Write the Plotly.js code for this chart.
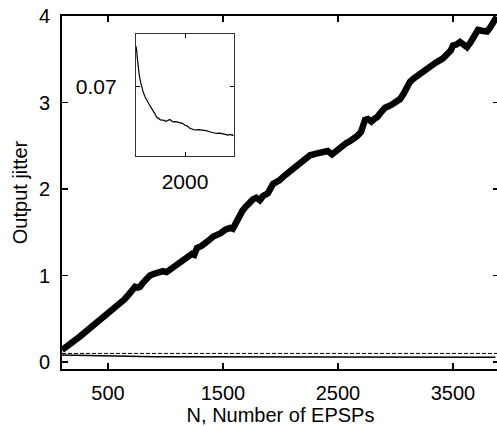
<!DOCTYPE html>
<html>
<head>
<meta charset="utf-8">
<script src="https://cdn.plot.ly/plotly-3.0.1.min.js"></script>
<style>
html,body{margin:0;padding:0;overflow:hidden;background:#fff;}
#chart{width:499px;height:426px;}
</style>
</head>
<body>
<div id="chart"></div>
<script>
// Thick curve: output jitter vs N
const thickN = [100, 150, 200, 260, 343, 390, 430, 470, 517, 560, 600, 640, 680, 710, 735, 760, 778, 800, 820, 845, 865, 900, 920, 950, 978, 1010, 1040, 1070, 1100, 1140, 1170, 1200, 1230, 1250, 1274, 1310, 1340, 1380, 1413, 1450, 1480, 1520, 1561, 1585, 1600, 1625, 1648, 1670, 1700, 1735, 1760, 1790, 1820, 1848, 1870, 1890, 1935, 1990, 2040, 2090, 2143, 2170, 2200, 2230, 2257, 2310, 2370, 2410, 2448, 2490, 2543, 2570, 2600, 2630, 2665, 2700, 2735, 2760, 2790, 2815, 2839, 2870, 2909, 2960, 3013, 3040, 3070, 3100, 3126, 3160, 3200, 3250, 3300, 3350, 3413, 3440, 3460, 3480, 3500, 3530, 3561, 3590, 3622, 3650, 3670, 3690, 3717, 3750, 3796, 3820, 3840, 3860, 3880];
const thickY = [0.14, 0.18, 0.24, 0.30, 0.39, 0.43, 0.47, 0.52, 0.57, 0.62, 0.67, 0.72, 0.78, 0.83, 0.87, 0.86, 0.87, 0.91, 0.94, 0.97, 1.00, 1.02, 1.03, 1.04, 1.05, 1.04, 1.07, 1.10, 1.13, 1.16, 1.19, 1.22, 1.25, 1.24, 1.32, 1.34, 1.38, 1.41, 1.45, 1.47, 1.49, 1.53, 1.55, 1.54, 1.58, 1.64, 1.72, 1.75, 1.80, 1.86, 1.88, 1.90, 1.87, 1.92, 1.93, 1.95, 2.06, 2.10, 2.16, 2.21, 2.28, 2.30, 2.33, 2.36, 2.39, 2.41, 2.43, 2.44, 2.40, 2.45, 2.51, 2.53, 2.55, 2.57, 2.61, 2.66, 2.80, 2.81, 2.78, 2.81, 2.83, 2.88, 2.94, 2.97, 3.02, 3.04, 3.10, 3.17, 3.24, 3.28, 3.32, 3.38, 3.43, 3.46, 3.51, 3.54, 3.56, 3.60, 3.66, 3.67, 3.70, 3.68, 3.64, 3.69, 3.73, 3.77, 3.84, 3.83, 3.82, 3.86, 3.90, 3.94, 3.99];
// Dashed reference line
const dashN = [100, 3900];
const dashY = [0.10, 0.10];
// Thin curve (also shown enlarged in inset)
const thinN = [100, 127, 160, 189, 230, 281, 330, 382, 450, 513, 600, 706, 770, 833, 900, 960, 1050, 1153, 1280, 1411, 1480, 1539, 1650, 1797, 1900, 1990, 2090, 2183, 2280, 2376, 2530, 2696, 2820, 2954, 3080, 3213, 3350, 3470, 3560, 3661, 3760, 3830, 3869];
const thinY = [0.0815, 0.0806, 0.0778, 0.0756, 0.0733, 0.0713, 0.0697, 0.0684, 0.0671, 0.0661, 0.0650, 0.0637, 0.0630, 0.0622, 0.0612, 0.0608, 0.0604, 0.0603, 0.0600, 0.0605, 0.0601, 0.0598, 0.0599, 0.0596, 0.0594, 0.0589, 0.0586, 0.0580, 0.0577, 0.0575, 0.0576, 0.0575, 0.0573, 0.0570, 0.0568, 0.0565, 0.0566, 0.0563, 0.0561, 0.0560, 0.0562, 0.0559, 0.0562];

const xTicks = [500, 1500, 2500, 3500];
const yTicks = [0, 1, 2, 3, 4];
const insetXTicks = [2000];
const insetYTicks = [0.07];

const font = {family: 'Liberation Sans, Arial, sans-serif', size: 20, color: '#000'};
const insetFont = {family: 'Liberation Sans, Arial, sans-serif', size: 21, color: '#000'};

const traces = [
  {x: dashN, y: dashY, mode: 'lines', line: {color: '#000', width: 1, dash: '4px,2px'}, xaxis: 'x', yaxis: 'y', hoverinfo: 'skip'},
  {x: thinN, y: thinY, mode: 'lines', line: {color: '#000', width: 1.5}, xaxis: 'x', yaxis: 'y', hoverinfo: 'skip'},
  {x: thickN, y: thickY, mode: 'lines', line: {color: '#000', width: 6.5}, xaxis: 'x', yaxis: 'y', hoverinfo: 'skip'},
  {x: thinN, y: thinY, mode: 'lines', line: {color: '#000', width: 1.2}, xaxis: 'x2', yaxis: 'y2', hoverinfo: 'skip'}
];

const layout = {
  width: 499, height: 426,
  margin: {l: 62, r: 0, t: 16, b: 57},
  paper_bgcolor: '#fff', plot_bgcolor: '#fff',
  showlegend: false,
  font: font,
  xaxis: {
    range: [100, 3900], domain: [0, 1],
    tickvals: xTicks, ticktext: xTicks.map(String),
    ticks: 'inside', ticklen: 6, tickwidth: 1.5, tickcolor: '#000',
    showline: true, linecolor: '#000', linewidth: 2, mirror: 'ticks',
    showgrid: false, zeroline: false,
    ticklabelstandoff: 5,
    title: {text: 'N, Number of EPSPs', font: font, standoff: 0}
  },
  yaxis: {
    range: [-0.08, 4.0], domain: [0, 1],
    tickvals: yTicks, ticktext: yTicks.map(String),
    ticks: 'inside', ticklen: 6, tickwidth: 1.5, tickcolor: '#000',
    showline: true, linecolor: '#000', linewidth: 2, mirror: 'ticks',
    showgrid: false, zeroline: false,
    ticklabelstandoff: 6,
    title: {text: 'Output jitter', font: font, standoff: 6}
  },
  xaxis2: {
    anchor: 'y2', domain: [0.169, 0.394], range: [100, 3900],
    tickvals: insetXTicks, ticktext: ['2000'],
    ticks: 'inside', ticklen: 4, tickwidth: 1, tickcolor: '#000',
    showline: true, linecolor: '#333', linewidth: 1, mirror: 'ticks',
    showgrid: false, zeroline: false, ticklabelstandoff: 7,
    tickfont: insetFont
  },
  yaxis2: {
    anchor: 'x2', domain: [0.603, 0.949], range: [0.05, 0.085],
    tickvals: insetYTicks, ticktext: ['0.07'],
    ticks: 'inside', ticklen: 4, tickwidth: 1, tickcolor: '#000',
    showline: true, linecolor: '#333', linewidth: 1, mirror: 'ticks',
    showgrid: false, zeroline: false, ticklabelstandoff: 14,
    tickfont: insetFont
  }
};

Plotly.newPlot('chart', traces, layout, {staticPlot: true, displayModeBar: false});
</script>
</body>
</html>
